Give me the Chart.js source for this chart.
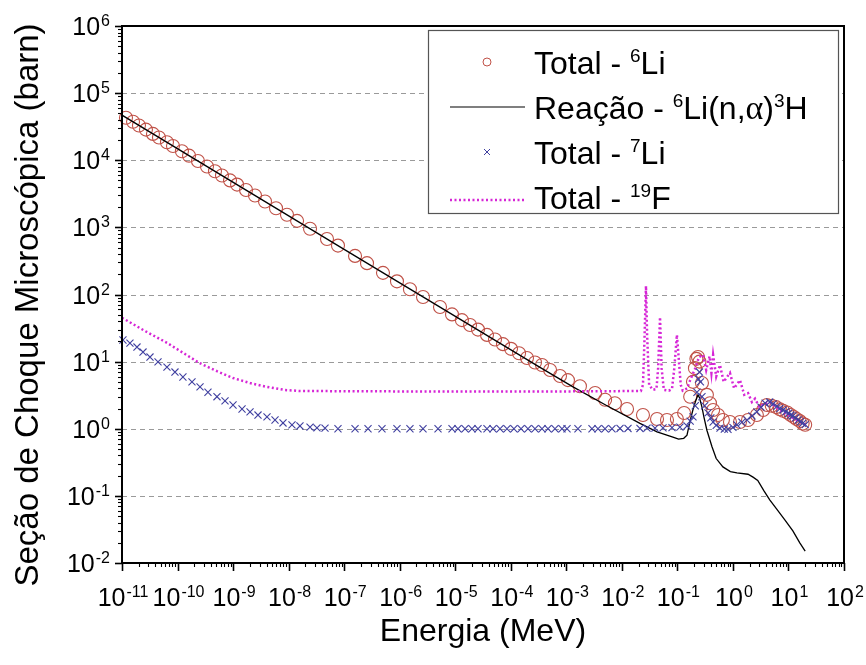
<!DOCTYPE html>
<html>
<head>
<meta charset="utf-8">
<script src="https://cdn.jsdelivr.net/npm/chart.js@4.4.1/dist/chart.umd.min.js"></script>
<style>
  html, body { margin: 0; background: #fff; }
  #wrap { width: 866px; height: 665px; position: relative; }
</style>
</head>
<body>
<div id="wrap"><canvas id="xsChart"></canvas></div>
<script>
/* Seção de choque: 6Li, 7Li, 19F — log-log */

// [energy (MeV), cross section (barn)]
const li6Total = [
  [1.18e-11, 43000], [1.58e-11, 37400], [2.02e-11, 33000], [2.70e-11, 28600], [3.61e-11, 24700],
  [4.63e-11, 21800], [6.45e-11, 18500], [8.28e-11, 16300], [1.20e-10, 13600], [1.61e-10, 11700],
  [2.33e-10, 9730], [3.39e-10, 8070], [4.72e-10, 6840], [6.31e-10, 5920], [8.81e-10, 5010],
  [1.18e-9, 4340], [1.71e-9, 3600], [2.48e-9, 2990], [3.76e-9, 2430], [5.93e-9, 1930],
  [9.35e-9, 1540], [1.42e-8, 1250], [2.43e-8, 955], [4.91e-8, 671], [7.74e-8, 535],
  [1.57e-7, 376], [2.58e-7, 293], [5.00e-7, 210], [8.93e-7, 157], [1.53e-6, 120],
  [2.63e-6, 92], [5.32e-6, 65], [8.75e-6, 50.5], [1.32e-5, 41.5], [1.85e-5, 35.2],
  [2.57e-5, 30], [3.73e-5, 25], [5.20e-5, 21.4], [7.24e-5, 18.2], [1.01e-4, 15.5],
  [1.41e-4, 13.3], [1.96e-4, 11.3], [2.73e-4, 9.7], [3.65e-4, 8.9], [5.1e-4, 7.5],
  [7.7e-4, 6.1], [1.07e-3, 5.3], [1.76e-3, 4.3], [3.3e-3, 3.4], [5.0e-3, 2.7],
  [7.5e-3, 2.4], [0.0124, 1.97], [0.024, 1.6], [0.043, 1.4], [0.065, 1.35],
  [0.098, 1.4], [0.132, 1.72], [0.17, 3.0], [0.191, 5.0], [0.207, 8.0],
  [0.22, 11], [0.235, 11.7], [0.25, 10], [0.277, 4.8], [0.34, 3.2],
  [0.386, 2.4], [0.44, 1.9], [0.54, 1.6], [0.66, 1.35], [0.885, 1.26],
  [1.34, 1.26], [1.87, 1.35], [2.7, 1.6], [3.5, 1.9], [4.1, 2.26],
  [5.0, 2.2], [6.0, 2.1], [7.0, 1.95], [8.0, 1.85], [9.5, 1.75],
  [11, 1.6], [12.5, 1.5], [14, 1.4], [16, 1.3], [18, 1.2], [20, 1.15]
];

const li6Reaction = [
  [1e-11, 47000], [1e-7, 470], [3.36e-4, 8.2], [1.32e-3, 4.2], [5.4e-3, 2.2],
  [0.0212, 1.2], [0.043, 0.9], [0.083, 0.75], [0.105, 0.7], [0.13, 0.72],
  [0.149, 0.8], [0.169, 1.3], [0.19, 1.9], [0.21, 2.5], [0.235, 3.2],
  [0.25, 2.9], [0.277, 2.1], [0.3, 1.5], [0.34, 0.95], [0.42, 0.54],
  [0.5, 0.36], [0.66, 0.27], [0.9, 0.23], [1.18, 0.22], [1.87, 0.21],
  [2.3, 0.19], [2.8, 0.17], [3.6, 0.12], [4.6, 0.087], [6.3, 0.062],
  [8.6, 0.044], [12, 0.03], [16, 0.02], [20, 0.015]
];

const li7Total = [
  [1.04e-11, 21], [1.39e-11, 18.9], [1.86e-11, 16.5], [2.39e-11, 13.9], [3.19e-11, 11.7],
  [4.45e-11, 9.9], [6.45e-11, 8.3], [8.99e-11, 7.0], [1.25e-10, 5.9], [1.82e-10, 5.0],
  [2.54e-10, 4.2], [3.53e-10, 3.5], [5.13e-10, 3.0], [7.16e-10, 2.6], [9.98e-10, 2.26],
  [1.45e-9, 1.97], [2.02e-9, 1.78], [2.81e-9, 1.6], [4.08e-9, 1.5], [5.69e-9, 1.35],
  [7.93e-9, 1.22], [1.15e-8, 1.14], [1.6e-8, 1.1], [2.43e-8, 1.06], [3.24e-8, 1.03],
  [4.52e-8, 1.02], [7.74e-8, 1.0], [1.57e-7, 1.0], [2.69e-7, 1.0], [4.8e-7, 1.0],
  [8.93e-7, 1.0], [1.53e-6, 1.0], [2.63e-6, 1.0], [4.9e-6, 1.0], [8.75e-6, 1.0],
  [1.12e-5, 1.0], [1.5e-5, 1.0], [2.0e-5, 1.0], [2.57e-5, 1.0], [3.73e-5, 1.0],
  [4.79e-5, 1.0], [6.4e-5, 1.0], [8.55e-5, 1.0], [1.14e-4, 1.0], [1.53e-4, 1.0],
  [2.04e-4, 1.0], [2.73e-4, 1.0], [3.65e-4, 1.0], [4.68e-4, 1.0], [6.25e-4, 1.0],
  [8.36e-4, 1.0], [1.03e-3, 1.0], [1.62e-3, 1.0], [2.9e-3, 1.0], [3.72e-3, 1.0],
  [4.98e-3, 1.0], [6.65e-3, 1.0], [9.27e-3, 1.01], [0.0129, 1.01], [0.0212, 1.01],
  [0.0284, 1.02], [0.0395, 1.02], [0.0551, 1.03], [0.08, 1.04], [0.111, 1.06],
  [0.149, 1.1], [0.17, 1.3], [0.191, 1.5], [0.21, 2.2], [0.225, 3.5],
  [0.24, 5.5], [0.25, 7.0], [0.26, 5.0], [0.277, 3.0], [0.31, 2.2],
  [0.356, 1.72], [0.4, 1.45], [0.44, 1.26], [0.5, 1.12], [0.585, 1.02],
  [0.7, 0.99], [0.815, 0.98], [1.0, 1.05], [1.18, 1.14], [1.45, 1.25],
  [1.79, 1.35], [2.2, 1.55], [2.7, 1.78], [3.2, 2.1], [3.8, 2.4],
  [4.6, 2.5], [5.3, 2.35], [6.2, 2.15], [7.0, 2.0], [8.0, 1.9],
  [9.0, 1.8], [10, 1.7], [11, 1.6], [12, 1.55], [13.5, 1.45],
  [15, 1.35], [16.5, 1.28], [18, 1.2], [20, 1.15]
];

const f19Total = [
  [1e-11, 45], [2.59e-11, 28.6], [6.5e-11, 19], [1.36e-10, 13], [2.5e-10, 9.5],
  [5.13e-10, 7.2], [1e-9, 5.7], [2.02e-9, 4.8], [4.1e-9, 4.2], [8.6e-9, 3.78],
  [1.6e-8, 3.65], [1e-6, 3.6], [1e-3, 3.6], [0.022, 3.65], [0.024, 4.5],
  [0.0255, 20], [0.0272, 134], [0.0285, 25], [0.031, 4.5], [0.036, 3.8],
  [0.042, 3.9], [0.045, 8], [0.0487, 46], [0.052, 8], [0.057, 3.8],
  [0.07, 3.7], [0.08, 3.9], [0.088, 8], [0.098, 25], [0.105, 12],
  [0.115, 4.5], [0.125, 3.7], [0.15, 4.0], [0.17, 5.3], [0.21, 8.0],
  [0.245, 11.7], [0.29, 12.6], [0.33, 7.5], [0.38, 12.0], [0.41, 6.8],
  [0.44, 12.6], [0.5, 6.0], [0.585, 8.9], [0.68, 5.0], [0.885, 6.8],
  [1.05, 4.0], [1.34, 5.3], [1.6, 3.2], [1.87, 3.4], [2.2, 2.5],
  [2.5, 2.8], [3.0, 2.1], [3.5, 2.3], [4.6, 2.5], [7, 1.9],
  [12, 1.45], [20, 1.15]
];

const xTickExps = [-11, -10, -9, -8, -7, -6, -5, -4, -3, -2, -1, 0, 1, 2];
const yTickExps = [-2, -1, 0, 1, 2, 3, 4, 5, 6];
const yGridExps = [-1, 0, 1, 2, 3, 4, 5];

const FONT = '"Liberation Sans", Arial, sans-serif';
const RED = 'rgb(192,82,72)';
const BLUE = 'rgb(64,64,160)';
const MAGENTA = 'rgb(214,38,214)';
const GRID = '#9a9a9a';

const toXY = (pairs) => pairs.map(([x, y]) => ({ x, y }));

/* "10" with a raised exponent; x is centre or right edge, y is the baseline of "10" */
function drawPow(ctx, exp, x, y, size, align) {
  const sup = Math.round(size * 0.64);
  ctx.font = size + 'px ' + FONT;
  const wBase = ctx.measureText('10').width;
  ctx.font = sup + 'px ' + FONT;
  const wSup = ctx.measureText(String(exp)).width;
  const total = wBase + 1 + wSup;
  const x0 = align === 'center' ? x - total / 2 : x - total;
  ctx.textAlign = 'left';
  ctx.textBaseline = 'alphabetic';
  ctx.font = size + 'px ' + FONT;
  ctx.fillText('10', x0, y);
  ctx.font = sup + 'px ' + FONT;
  ctx.fillText(String(exp), x0 + wBase + 1, y - size * 0.3 - 1.5);
}

/* runs: [text, kind] where kind n = normal, s = superscript, g = greek (serif) */
function drawRuns(ctx, runs, x, y, size) {
  ctx.textAlign = 'left';
  ctx.textBaseline = 'alphabetic';
  runs.forEach(([t, k]) => {
    let f = size + 'px ' + FONT, dy = 0;
    if (k === 's') { f = Math.round(size * 0.6) + 'px ' + FONT; dy = -size * 0.36; }
    if (k === 'g') f = (size + 2) + 'px "Liberation Serif", "Times New Roman", serif';
    ctx.font = f;
    ctx.fillText(t, x, y + dy);
    x += ctx.measureText(t).width;
  });
}

const LEGEND = [
  { sym: 'circle', runs: [['Total - ', 'n'], ['6', 's'], ['Li', 'n']] },
  { sym: 'line', runs: [['Reação - ', 'n'], ['6', 's'], ['Li(n,', 'n'], ['α', 'g'], [')', 'n'], ['3', 's'], ['H', 'n']] },
  { sym: 'cross', runs: [['Total - ', 'n'], ['7', 's'], ['Li', 'n']] },
  { sym: 'dots', runs: [['Total - ', 'n'], ['19', 's'], ['F', 'n']] },
];

const frame = {
  id: 'frame',
  beforeDatasetsDraw(chart) {
    const { ctx, chartArea: a, scales: { y } } = chart;
    ctx.save();
    ctx.strokeStyle = GRID;
    ctx.lineWidth = 1;
    ctx.setLineDash([5, 4]);
    yGridExps.forEach((e) => {
      const py = Math.round(y.getPixelForValue(Math.pow(10, e))) + 0.5;
      ctx.beginPath(); ctx.moveTo(a.left, py); ctx.lineTo(a.right, py); ctx.stroke();
    });
    ctx.restore();
  },
  afterDatasetsDraw(chart) {
    const { ctx, chartArea: a, scales: { x, y } } = chart;
    ctx.save();
    ctx.fillStyle = '#000';
    ctx.strokeStyle = '#000';

    // ticks, outward: major at decades, minor at 2..9
    xTickExps.forEach((e) => {
      for (let m = 1; m <= 9; m++) {
        if (e === 2 && m > 1) break;
        const px = Math.round(x.getPixelForValue(m * Math.pow(10, e))) + 0.5;
        ctx.lineWidth = m === 1 ? 1.6 : 1.1;
        ctx.beginPath(); ctx.moveTo(px, a.bottom); ctx.lineTo(px, a.bottom + (m === 1 ? 8 : 4)); ctx.stroke();
      }
    });
    yTickExps.forEach((e) => {
      for (let m = 1; m <= 9; m++) {
        if (e === 6 && m > 1) break;
        const py = Math.round(y.getPixelForValue(m * Math.pow(10, e))) + 0.5;
        ctx.lineWidth = m === 1 ? 1.6 : 1.1;
        ctx.beginPath(); ctx.moveTo(a.left, py); ctx.lineTo(a.left - (m === 1 ? 7 : 4), py); ctx.stroke();
      }
    });

    // frame
    ctx.lineWidth = 2;
    ctx.strokeRect(a.left, a.top, a.right - a.left, a.bottom - a.top);

    // tick labels
    xTickExps.forEach((e) => drawPow(ctx, e, x.getPixelForValue(Math.pow(10, e)) + 1, 606, 25, 'center'));
    yTickExps.forEach((e) => drawPow(ctx, e, 110, y.getPixelForValue(Math.pow(10, e)) + 9, 25, 'right'));

    // axis titles
    ctx.font = '32px ' + FONT;
    ctx.textAlign = 'center';
    ctx.textBaseline = 'alphabetic';
    ctx.fillText('Energia (MeV)', (a.left + a.right) / 2, 641);
    ctx.save();
    ctx.translate(38, 305);
    ctx.rotate(-Math.PI / 2);
    ctx.font = '33px ' + FONT;
    ctx.fillText('Seção de Choque Microscópica (barn)', 0, 0);
    ctx.restore();

    // legend
    ctx.fillStyle = '#fff';
    ctx.fillRect(428, 30, 411, 184);
    ctx.strokeStyle = '#555';
    ctx.lineWidth = 1.2;
    ctx.strokeRect(428.5, 30.5, 410, 183);
    LEGEND.forEach((item, i) => {
      const cy = 62 + i * 45;
      ctx.save();
      if (item.sym === 'circle') {
        ctx.strokeStyle = RED; ctx.lineWidth = 1;
        ctx.beginPath(); ctx.arc(487, cy, 4, 0, Math.PI * 2); ctx.stroke();
      } else if (item.sym === 'line') {
        ctx.strokeStyle = '#000'; ctx.lineWidth = 1.2;
        ctx.beginPath(); ctx.moveTo(450, cy); ctx.lineTo(525, cy); ctx.stroke();
      } else if (item.sym === 'cross') {
        ctx.strokeStyle = BLUE; ctx.lineWidth = 1;
        ctx.beginPath();
        ctx.moveTo(484, cy - 3); ctx.lineTo(490, cy + 3);
        ctx.moveTo(490, cy - 3); ctx.lineTo(484, cy + 3);
        ctx.stroke();
      } else {
        ctx.strokeStyle = MAGENTA; ctx.lineWidth = 2.5; ctx.setLineDash([2, 2.5]);
        ctx.beginPath(); ctx.moveTo(450, cy + 3); ctx.lineTo(525, cy + 3); ctx.stroke();
      }
      ctx.restore();
      ctx.fillStyle = '#000';
      drawRuns(ctx, item.runs, 534, cy + 12, 32);
    });
    ctx.restore();
  },
};

new Chart(document.getElementById('xsChart'), {
  type: 'scatter',
  data: {
    datasets: [
      { label: 'Total - 6Li', data: toXY(li6Total), showLine: false, pointStyle: 'circle', pointRadius: 6.5,
        borderColor: RED, backgroundColor: 'rgba(0,0,0,0)', borderWidth: 1.1, order: 4, clip: 10 },
      { label: 'Reação - 6Li(n,α)3H', data: toXY(li6Reaction), showLine: true, pointRadius: 0,
        borderColor: '#000', borderWidth: 1.3, tension: 0, order: 3 },
      { label: 'Total - 7Li', data: toXY(li7Total), showLine: false, pointStyle: 'crossRot', pointRadius: 5,
        borderColor: BLUE, backgroundColor: BLUE, borderWidth: 1.1, order: 1, clip: 10 },
      { label: 'Total - 19F', data: toXY(f19Total), showLine: true, pointRadius: 0,
        borderColor: MAGENTA, borderWidth: 2.5, borderDash: [2, 2.5], tension: 0, order: 2 },
    ],
  },
  options: {
    responsive: true, maintainAspectRatio: false, animation: false, events: [],
    layout: { padding: { left: 122, top: 26, right: 22, bottom: 102 } },
    plugins: { legend: { display: false }, tooltip: { enabled: false } },
    scales: {
      x: { type: 'logarithmic', min: 1e-11, max: 1e2, display: false },
      y: { type: 'logarithmic', min: 1e-2, max: 1e6, display: false },
    },
  },
  plugins: [frame],
});
</script>
</body>
</html>
